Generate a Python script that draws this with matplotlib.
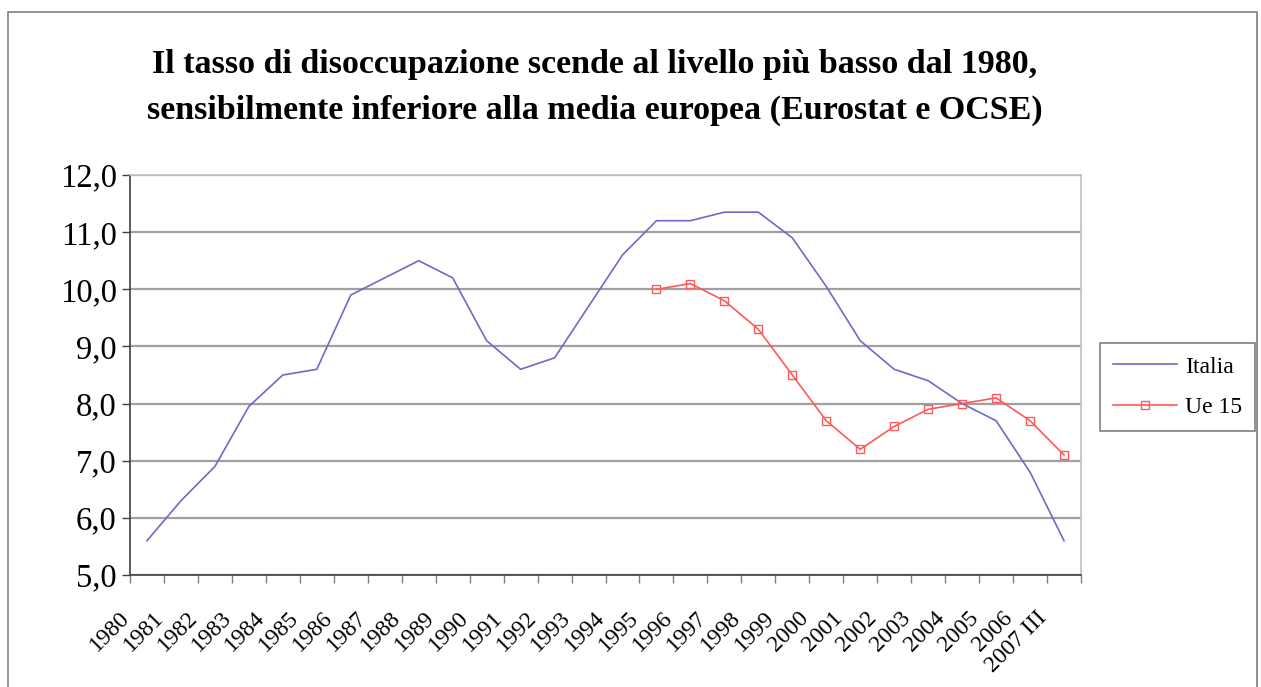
import numpy as np
import matplotlib.pyplot as plt
from matplotlib.patches import Rectangle
from matplotlib.ticker import FuncFormatter
from matplotlib.transforms import ScaledTranslation

years = [str(y) for y in range(1980, 2007)] + ['2007 III']

# tasso di disoccupazione (%)
italia = [5.6, 6.3, 6.9, 7.95, 8.5, 8.6, 9.9, 10.2, 10.5, 10.2,
          9.1, 8.6, 8.8, 9.7, 10.6, 11.2, 11.2, 11.35, 11.35, 10.9,
          10.05, 9.1, 8.6, 8.4, 8.0, 7.7, 6.8, 5.6]
ue15_years = years[15:]
ue15 = [10.0, 10.1, 9.8, 9.3, 8.5, 7.7, 7.2, 7.6, 7.9, 8.0, 8.1, 7.7, 7.1]

plt.rcParams['font.family'] = ['Liberation Serif', 'DejaVu Serif']

fig = plt.figure(figsize=(12.61, 6.87), dpi=100)
W, H = 1261, 687

# bordo dell'area grafico
fig.patches.append(Rectangle((8 / W, -0.05), (1257 - 8) / W, (H - 12) / H + 0.05,
                             transform=fig.transFigure, fill=False,
                             edgecolor='#808080', linewidth=1.2))

ax = fig.add_axes([130 / W, (H - 575) / H, (1081 - 130) / W, (575 - 175) / H])

x = np.arange(len(years))
x_ue = np.arange(len(years) - len(ue15), len(years))

ax.plot(x, italia, color='#6b6bc8', linewidth=1.2, label='Italia')
ax.plot(x_ue, ue15, color='#ff5a5a', linewidth=1.2, marker='s', markersize=5.5,
        markerfacecolor='none', markeredgecolor='#ff5a5a', markeredgewidth=1,
        label='Ue 15')

ax.set_xlim(-0.5, len(years) - 0.5)
ax.set_ylim(5, 12)
ax.set_yticks(np.arange(5, 12.1, 1))
ax.yaxis.set_major_formatter(FuncFormatter(lambda v, p: f'{v:.1f}'.replace('.', ',')))
ax.tick_params(axis='y', labelsize=23.5, length=6, width=1, direction='out', color='#404040')

ax.set_xticks(x)
ax.set_xticklabels(years, rotation=45, ha='right', va='center',
                   rotation_mode='anchor', fontsize=17)
ax.tick_params(axis='x', which='major', length=0, pad=0)
ax.set_xticks(np.arange(-0.5, len(years)), minor=True)
ax.tick_params(axis='x', which='minor', length=6, width=1, direction='out', color='#808080')
shift = ScaledTranslation(-0.21, -0.40, fig.dpi_scale_trans)
for lab in ax.get_xticklabels():
    lab.set_transform(lab.get_transform() + shift)

ax.grid(axis='y', color='#a0a0a0', linewidth=1.6)
ax.set_axisbelow(True)
for s in ['left', 'bottom']:
    ax.spines[s].set_color('#404040')
    ax.spines[s].set_linewidth(1.2)
for s in ['top', 'right']:
    ax.spines[s].set_color('#c0c0c0')
    ax.spines[s].set_linewidth(1.2)

fig.text(595 / W, (H - 65) / H,
         'Il tasso di disoccupazione scende al livello più basso dal 1980,',
         ha='center', va='center', fontsize=24.5, fontweight='bold')
fig.text(595 / W, (H - 110) / H,
         'sensibilmente inferiore alla media europea (Eurostat e OCSE)',
         ha='center', va='center', fontsize=24.5, fontweight='bold')

leg = fig.legend(loc='center left', bbox_to_anchor=(1100 / W, (H - 387) / H),
                 fontsize=17, frameon=True, fancybox=False, handlelength=2.7,
                 borderpad=0.55, labelspacing=0.8, handletextpad=0.35,
                 borderaxespad=0)
leg.get_frame().set_edgecolor('#606060')
leg.get_frame().set_linewidth(1.2)

fig.savefig('out.png', dpi=100)
